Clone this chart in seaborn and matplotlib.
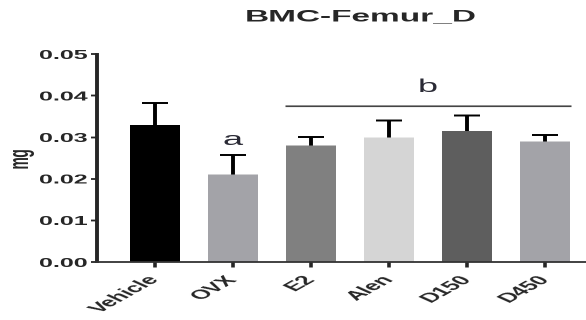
import numpy as np
import matplotlib
matplotlib.use("Agg")
import matplotlib.pyplot as plt
import seaborn as sns

# Group means (mg) and SEM for femur BMC
groups = ["Vehicle", "OVX", "E2", "Alen", "D150", "D450"]
means = [0.033, 0.021, 0.028, 0.030, 0.0315, 0.029]
sem = [0.0053, 0.0048, 0.0021, 0.0040, 0.0037, 0.0016]
bar_colors = ["#000000", "#a3a3a8", "#808080", "#d5d5d5", "#5e5e5e", "#a3a3a8"]
y_ticks = [0.00, 0.01, 0.02, 0.03, 0.04, 0.05]
y_tick_labels = ["0.00", "0.01", "0.02", "0.03", "0.04", "0.05"]

# significance marks: (text, x position, y position)
mark_a = ("a", 1.0, 0.0293)
mark_b = ("b", 3.5, 0.0420)
b_line = (1.67, 5.33, 0.0375)

sns.set_style("ticks")
plt.rcParams["font.family"] = ["Liberation Sans", "DejaVu Sans"]

# drawn on a narrow canvas at double resolution, then rows are merged
# so the final graphic is stretched twice horizontally
fig = plt.figure(figsize=(2.93, 3.2), dpi=200)
ax = fig.add_axes([0.1655, 0.181, 0.8325, 0.65])

sns.barplot(x=groups, y=means, hue=groups, palette=bar_colors, legend=False,
            width=0.65, saturation=1, errorbar=None, ax=ax, linewidth=0)

xpos = np.arange(len(groups))
tops = np.array(means) + np.array(sem)
ax.vlines(xpos, means, tops, color="black", linewidth=1.4, zorder=3)
ax.hlines(tops, xpos - 0.165, xpos + 0.165, color="black", linewidth=1.4, zorder=3)

ax.text(mark_a[1], mark_a[2], mark_a[0], ha="center", va="center",
        fontsize=13, color="#2a2a35")
ax.text(mark_b[1], mark_b[2], mark_b[0], ha="center", va="center",
        fontsize=13, color="#2a2a35")
ax.hlines(b_line[2], b_line[0], b_line[1], color="#444444", linewidth=1.2)

ax.set_xlim(-0.744, 5.51)
ax.set_ylim(0, 0.05)
ax.set_yticks(y_ticks)
ax.set_yticklabels(y_tick_labels, fontsize=9, fontweight="bold")
ax.set_xticks(xpos)
ax.set_xticklabels(groups, fontsize=9.5, fontweight="bold", rotation=48,
                   ha="right", va="center", rotation_mode="anchor")
ax.tick_params(axis="y", length=2, width=1.3, pad=1.5)
ax.tick_params(axis="x", length=4, width=1.3, pad=7)
ax.set_xlabel("")
ax.set_ylabel("")
for side in ["top", "right"]:
    ax.spines[side].set_visible(False)
ax.spines["left"].set_linewidth(1.4)
ax.spines["bottom"].set_linewidth(1.3)
ax.spines["bottom"].set_color("#333333")

fig.text(0.034, 0.506, "mg", rotation=90, ha="center", va="center",
         fontsize=10, fontweight="bold")
fig.text(0.616, 0.947, "BMC-Femur_D", ha="center", va="center",
         fontsize=12, fontweight="bold")

fig.canvas.draw()
img = np.asarray(fig.canvas.buffer_rgba()).astype(float) / 255.0
h, w = img.shape[:2]
img = img.reshape(h // 2, 2, w, 4).mean(axis=1)
plt.imsave("out.png", np.clip(img, 0, 1))
